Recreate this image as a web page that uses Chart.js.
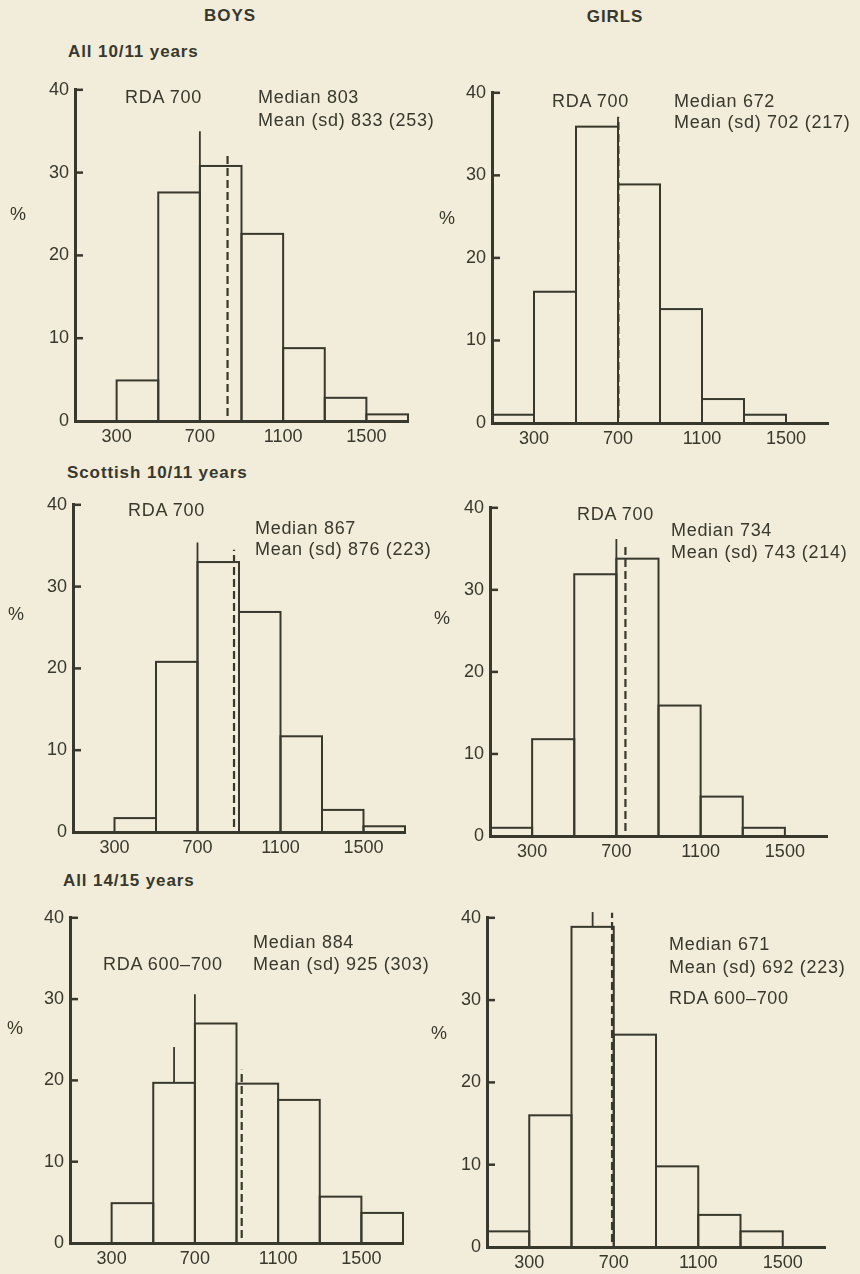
<!DOCTYPE html>
<html>
<head>
<meta charset="utf-8">
<script src="https://cdn.jsdelivr.net/npm/chart.js@4.4.1/dist/chart.umd.min.js"></script>
<style>
  html, body { margin: 0; padding: 0; background: #f2ecda; }
  #page {
    position: relative; width: 860px; height: 1274px; overflow: hidden;
    background: #f2ecda; color: #38382c;
    font-family: "Liberation Sans", Arial, sans-serif;
  }
  #page canvas { position: absolute; }
  .t { position: absolute; white-space: nowrap; font-size: 18px; line-height: 18px; letter-spacing: 0.7px; }
  .h { position: absolute; white-space: nowrap; font-weight: bold; font-size: 17px; line-height: 17px; letter-spacing: 0.9px; }
</style>
</head>
<body>
<div id="page"></div>
<script>
// Calcium intake (mg/day) histograms, 200 mg bins centred on these values
const intakeBins = [200, 400, 600, 800, 1000, 1200, 1400, 1600];
const xTickValues = [300, 700, 1100, 1500];
const yTickValues = [0, 10, 20, 30, 40];

// Percentage of children in each intake bin
const boysAll1011       = [0, 4.9, 27.6, 30.8, 22.6, 8.8, 2.8, 0.8];
const girlsAll1011      = [1.0, 15.9, 35.9, 28.9, 13.8, 2.9, 1.0, 0];
const boysScottish1011  = [0, 1.7, 20.8, 33.0, 26.9, 11.7, 2.7, 0.7];
const girlsScottish1011 = [1.0, 11.8, 31.9, 33.8, 15.9, 4.8, 1.0, 0];
const boysAll1415       = [0, 4.9, 19.7, 27.0, 19.6, 17.6, 5.7, 3.7];
const girlsAll1415      = [1.9, 16.0, 38.9, 25.8, 9.8, 3.9, 1.9, 0];

// Summary statistics per panel (boys/girls for each group, row by row)
const medianValues = [803, 672, 867, 734, 884, 671];
const meanValues   = [833, 702, 876, 743, 925, 692];
const sdValues     = [253, 217, 223, 214, 303, 223];
const meanLineTops = [32.3, 37.0, 34.5, 35.4, 21.3, 40.6];

// Recommended daily amount markers (solid lines) and their heights
const rdaMarks    = [[700], [700], [700], [700], [600, 700], [600]];
const rdaLineTops = [[35.0], [37.1], [35.4], [36.2], [24.1, 30.6], [40.7]];
const rdaLabels   = ['RDA 700', 'RDA 700', 'RDA 700', 'RDA 700', 'RDA 600\u2013700', 'RDA 600\u2013700'];

const groupTitles = ['All 10/11 years', 'Scottish 10/11 years', 'All 14/15 years'];
const columnTitles = ['BOYS', 'GIRLS'];

const seriesList = [boysAll1011, girlsAll1011, boysScottish1011, girlsScottish1011, boysAll1415, girlsAll1415];

const INK = '#38382c';
const FONT = '"Liberation Sans", Arial, sans-serif';
const page = document.getElementById('page');

// Plot area of each panel on the page
const frames = [
  { left: 75,  top: 87,  right: 408, bottom: 421 },
  { left: 492, top: 90,  right: 828, bottom: 423 },
  { left: 73,  top: 502, right: 405, bottom: 832 },
  { left: 490, top: 505, right: 827, bottom: 836 },
  { left: 70,  top: 915, right: 403, bottom: 1243 },
  { left: 487, top: 915, right: 825, bottom: 1247 }
];

// Text placement: [x, baseline]
const textSpots = [
  { rda: [125, 103], median: [258, 103], mean: [258, 126], pct: [10, 220] },
  { rda: [552, 107], median: [674, 107], mean: [674, 128], pct: [439, 224] },
  { rda: [128, 516], median: [255, 534], mean: [255, 555], pct: [8, 620] },
  { rda: [577, 520], median: [671, 536], mean: [671, 558], pct: [434, 624] },
  { rda: [103, 970], median: [253, 948], mean: [253, 970], pct: [7, 1034] },
  { rda: [669, 1004], median: [669, 950], mean: [669, 973], pct: [431, 1039] }
];

function addText(str, x, baseline, cls, centre) {
  const d = document.createElement('div');
  d.className = cls;
  d.textContent = str;
  const off = cls === 'h' ? 14.4 : 15.2;
  d.style.left = x + 'px';
  d.style.top = (baseline - off) + 'px';
  if (centre) d.style.transform = 'translateX(-50%)';
  page.appendChild(d);
}

// Outlines the histogram bars and draws the RDA / mean markers and inward ticks
const histMarks = {
  id: 'histMarks',
  afterDatasetsDraw(chart, args, opts) {
    const { ctx, chartArea } = chart;
    const xs = chart.scales.x, ys = chart.scales.y;
    ctx.save();
    ctx.strokeStyle = INK;
    ctx.lineCap = 'butt';

    // bar outlines
    ctx.lineWidth = 2;
    chart.getDatasetMeta(0).data.forEach(bar => {
      const p = bar.getProps(['x', 'y', 'base', 'width'], true);
      if (Math.abs(p.base - p.y) < 0.5) return;
      ctx.strokeRect(p.x - p.width / 2, p.y, p.width, p.base - p.y);
    });

    // solid RDA lines, starting from the top of the bar they stand in
    ctx.lineWidth = 1.8;
    opts.rda.forEach((v, k) => {
      let from = 0;
      intakeBins.forEach((c, b) => {
        if (v > c - 100 && v < c + 100) from = opts.values[b];
      });
      const px = xs.getPixelForValue(v);
      ctx.beginPath();
      ctx.moveTo(px, ys.getPixelForValue(from));
      ctx.lineTo(px, ys.getPixelForValue(opts.rdaTops[k]));
      ctx.stroke();
    });

    // dashed mean line
    ctx.lineWidth = 2.2;
    ctx.setLineDash([8, 4]);
    const mx = xs.getPixelForValue(opts.mean);
    ctx.beginPath();
    ctx.moveTo(mx, ys.getPixelForValue(0.6));
    ctx.lineTo(mx, ys.getPixelForValue(opts.meanTop));
    ctx.stroke();
    ctx.setLineDash([]);

    // inward y ticks
    ctx.lineWidth = 2.5;
    ys.ticks.forEach(t => {
      if (t.value === 0) return;
      const py = ys.getPixelForValue(t.value);
      ctx.beginPath();
      ctx.moveTo(chartArea.left, py);
      ctx.lineTo(chartArea.left + 8, py);
      ctx.stroke();
    });
    ctx.restore();
  }
};

function makePanel(i) {
  const f = frames[i];
  const padL = 60, padT = 14, padR = 20, padB = 34;
  const w = f.right - f.left + padL + padR;
  const h = f.bottom - f.top + padT + padB;
  const cv = document.createElement('canvas');
  cv.width = w; cv.height = h;
  cv.style.width = w + 'px'; cv.style.height = h + 'px';
  cv.style.left = (f.left - padL) + 'px';
  cv.style.top = (f.top - padT) + 'px';
  page.appendChild(cv);

  const values = seriesList[i];
  const tickFont = { family: FONT, size: 18 };

  new Chart(cv, {
    type: 'bar',
    data: {
      datasets: [{
        data: intakeBins.map((c, k) => ({ x: c, y: values[k] })),
        backgroundColor: 'rgba(0,0,0,0)',
        borderWidth: 0,
        barPercentage: 1,
        categoryPercentage: 1
      }]
    },
    options: {
      responsive: false,
      animation: false,
      devicePixelRatio: 1,
      layout: { padding: { top: padT, right: padR, left: 0, bottom: 0 } },
      plugins: {
        legend: { display: false },
        tooltip: { enabled: false },
        histMarks: {
          values: values,
          rda: rdaMarks[i],
          rdaTops: rdaLineTops[i],
          mean: meanValues[i],
          meanTop: meanLineTops[i]
        }
      },
      scales: {
        x: {
          type: 'linear', min: 100, max: 1700, offset: false,
          afterBuildTicks: s => { s.ticks = xTickValues.map(v => ({ value: v })); },
          afterFit: s => { s.height = padB; },
          grid: { display: false, drawTicks: false, offset: false },
          border: { display: true, width: 3, color: INK },
          ticks: { padding: 5, color: INK, font: tickFont, maxRotation: 0, autoSkip: false,
                   callback: v => String(v) }
        },
        y: {
          type: 'linear', min: 0, max: 40,
          afterBuildTicks: s => { s.ticks = yTickValues.map(v => ({ value: v })); },
          afterFit: s => { s.width = padL; },
          grid: { display: false, drawTicks: false },
          border: { display: true, width: 3, color: INK },
          ticks: { padding: 6, color: INK, font: tickFont, callback: v => String(v) }
        }
      }
    },
    plugins: [histMarks]
  });

  const s = textSpots[i];
  addText(rdaLabels[i], s.rda[0], s.rda[1], 't');
  addText('Median ' + medianValues[i], s.median[0], s.median[1], 't');
  addText('Mean (sd) ' + meanValues[i] + ' (' + sdValues[i] + ')', s.mean[0], s.mean[1], 't');
  addText('%', s.pct[0], s.pct[1], 't');
}

for (let i = 0; i < 6; i++) makePanel(i);

addText(columnTitles[0], 230, 21, 'h', true);
addText(columnTitles[1], 615, 22, 'h', true);
addText(groupTitles[0], 68, 57, 'h');
addText(groupTitles[1], 67, 478, 'h');
addText(groupTitles[2], 63, 886, 'h');
</script>
</body>
</html>
